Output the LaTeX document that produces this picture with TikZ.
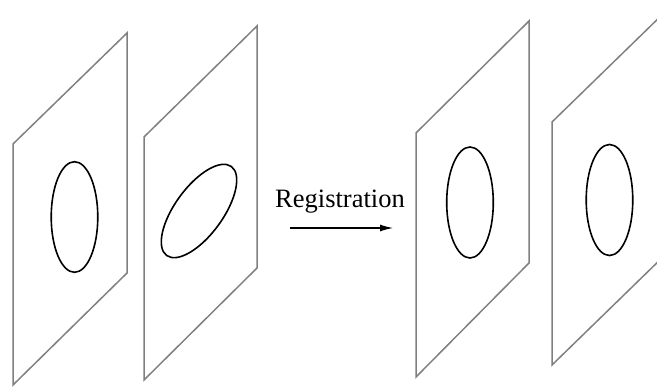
\documentclass[tikz,border=0pt]{standalone}
\usepackage{fontspec}
\setmainfont{Liberation Serif}
\usetikzlibrary{arrows.meta}
\begin{document}
\begin{tikzpicture}[x=1pt,y=-1pt,
  plane/.style={draw=black!50,line width=1.5pt,line join=miter},
  blob/.style={draw=black,line width=1.6pt}]
\useasboundingbox (0,0) rectangle (657,388);
\clip (0,0) rectangle (657,388);
% planes
\draw[plane] (13,144) -- (127,33) -- (127,273) -- (13,385) -- cycle;
\draw[plane] (144,137) -- (257,26) -- (257,268) -- (144,380) -- cycle;
\draw[plane] (416,133) -- (529,21) -- (529,263) -- (416,377) -- cycle;
\draw[plane] (552,122) -- (666,11) -- (666,254) -- (552,365) -- cycle;
% ellipses
\draw[blob] (74.5,217) ellipse [x radius=23.3, y radius=55.3];
\draw[blob] (199,211) ellipse [x radius=55, y radius=24, rotate=54];
\draw[blob] (470,202.5) ellipse [x radius=23.3, y radius=55.5];
\draw[blob] (609.5,200) ellipse [x radius=23.3, y radius=55.5];
% label and arrow
\node[font=\fontsize{26.5}{30}\selectfont, anchor=base, inner sep=0pt] (lbl) at (340,207) {Registration};
\coordinate (a0) at (290,228);
\coordinate (a1) at (393,228);
\draw[line width=1.1pt,-{Latex[length=13pt,width=7pt]}] (a0) -- (a1);
\end{tikzpicture}
\end{document}
